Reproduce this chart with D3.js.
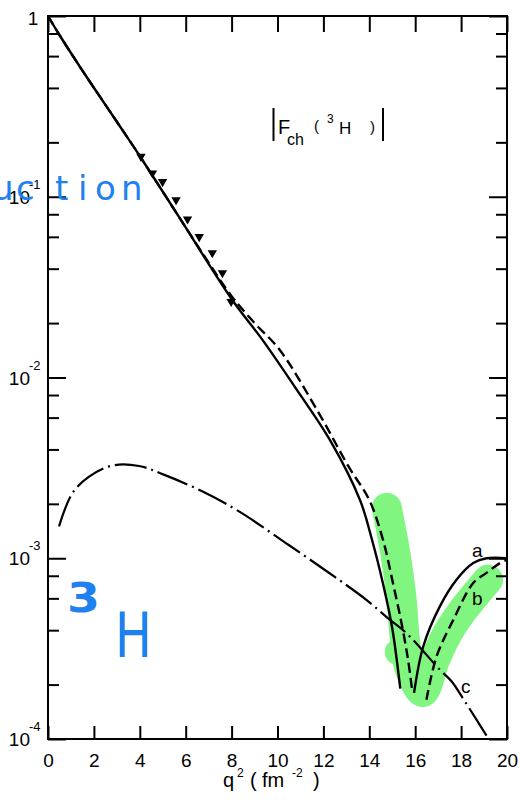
<!DOCTYPE html>
<html>
<head>
<meta charset="utf-8">
<script src="https://cdn.jsdelivr.net/npm/d3@7"></script>
<style>
  html, body { margin: 0; padding: 0; background: #fff; }
  svg { display: block; font-family: "Liberation Sans", Arial, sans-serif; }
</style>
</head>
<body>
<svg id="chart" width="520" height="802"></svg>
<script>
// |F_ch(3H)| versus momentum transfer q^2 (fm^-2)

// curve a (solid), first and second branch
const aQ1 = [0, 0.5, 1.0, 1.5, 2.0, 3.0, 4.0, 5.7, 8.0, 9.4, 10.8, 12.3, 13.6, 14.1, 14.6, 15.0, 15.35];
const aF1 = [1, 0.785, 0.624, 0.499, 0.401, 0.260, 0.168, 0.0776, 0.0272, 0.0158, 0.0087, 0.00447, 0.00209, 0.00129, 0.00072, 0.00041, 0.00019];
const aQ2 = [15.95, 16.35, 17.07, 17.8, 18.53, 19.11, 20];
const aF2 = [1.8e-4, 3.25e-4, 5.4e-4, 7.6e-4, 9.4e-4, 1.0e-3, 1.0e-3];

// curve b (dashed), first and second branch
const bQ1 = [0, 0.5, 1.0, 1.5, 2.0, 3.0, 4.0, 5.7, 7.0, 8.0, 9.0, 10.1, 11.8, 13.1, 14.0, 14.6, 15.03, 15.4, 15.69, 15.88];
const bF1 = [1, 0.785, 0.624, 0.499, 0.401, 0.260, 0.168, 0.0776, 0.0432, 0.0282, 0.0200, 0.0142, 0.00635, 0.00321, 0.0021, 0.00126, 0.00073, 0.00044, 0.000274, 0.00018];
const bQ2 = [16.49, 16.93, 17.66, 18.53, 19.11, 19.69, 20];
const bF2 = [1.65e-4, 2.86e-4, 4.56e-4, 7.3e-4, 8.3e-4, 9.4e-4, 9.8e-4];

// curve c (dash-dot)
const cQ = [0.48, 1.06, 1.79, 2.81, 3.97, 4.99, 6.74, 8.34, 10.38, 12.27, 13.87, 14.89, 15.62, 17.07, 17.59, 18.17, 19.2];
const cF = [1.5e-3, 2.29e-3, 2.83e-3, 3.26e-3, 3.24e-3, 2.92e-3, 2.34e-3, 1.81e-3, 1.21e-3, 8.26e-4, 5.89e-4, 4.57e-4, 3.85e-4, 2.42e-4, 2.08e-4, 1.61e-4, 1.0e-4];

// measured points
const pQ = [4.05, 4.55, 4.99, 5.58, 6.08, 6.59, 7.16, 7.6, 7.98];
const pF = [0.167, 0.135, 0.121, 0.096, 0.0752, 0.0601, 0.0489, 0.0379, 0.0263];

// marker-pen highlight around the minimum
const hQ = [14.76, 15.11, 15.41, 15.55, 15.77, 16.33, 16.86, 17.38, 18.03, 18.73, 19.17];
const hF = [1.9e-3, 1.11e-3, 5.9e-4, 3.54e-4, 2.42e-4, 1.82e-4, 2.74e-4, 3.78e-4, 5.06e-4, 6.52e-4, 7.6e-4];
const blobQ = [15.24];
const blobF = [3.03e-4];

// axes
const xTicks = [0, 2, 4, 6, 8, 10, 12, 14, 16, 18, 20];
const yDecades = [1, 1e-1, 1e-2, 1e-3, 1e-4];
const yExponents = ["", "-1", "-2", "-3", "-4"];
const yMantissas = [2, 4, 6, 8];

const svg = d3.select("#chart");
const L = 48, R = 507, T = 16, B = 739;
const x = d3.scaleLinear().domain([0, 20]).range([L, R]);
const y = d3.scaleLog().domain([1e-4, 1]).range([B, T]);

const zip = (q, f) => q.map((v, i) => [v, f[i]]);
const line = d3.line().x(d => x(d[0])).y(d => y(d[1])).curve(d3.curveCatmullRom.alpha(0.5));

// highlight (under the curves)
const green = "rgb(128,245,128)";
svg.append("path")
  .attr("d", line(zip(hQ, hF)))
  .attr("fill", "none")
  .attr("stroke", green)
  .attr("stroke-width", 30)
  .attr("stroke-linecap", "round")
  .attr("stroke-linejoin", "round");
svg.selectAll("circle.blob").data(zip(blobQ, blobF)).join("circle")
  .attr("class", "blob")
  .attr("cx", d => x(d[0])).attr("cy", d => y(d[1])).attr("r", 13)
  .attr("fill", green);

// frame
svg.append("rect")
  .attr("x", L).attr("y", T).attr("width", R - L).attr("height", B - T)
  .attr("fill", "none").attr("stroke", "#000").attr("stroke-width", 2);

const yMinor = yDecades.slice(1).flatMap(d => yMantissas.map(m => m * d));

function styleAxis(g) {
  g.select(".domain").remove();
  g.selectAll("line").attr("stroke", "#000").attr("stroke-width", 2);
}

svg.append("g").attr("transform", `translate(0,${B})`)
  .call(d3.axisBottom(x).tickValues(xTicks).tickSizeInner(-13).tickSizeOuter(0).tickPadding(15).tickFormat(d3.format("d")))
  .call(styleAxis)
  .call(g => g.selectAll("text").attr("font-size", 19).attr("fill", "#000")
    .attr("font-family", '"Liberation Sans", Arial, sans-serif'));

svg.append("g").attr("transform", `translate(0,${T})`)
  .call(d3.axisTop(x).tickValues(xTicks).tickSizeInner(-16).tickSizeOuter(0).tickFormat(""))
  .call(styleAxis);

svg.append("g").attr("transform", `translate(${L},0)`)
  .call(d3.axisLeft(y).tickValues(yDecades).tickSizeInner(-18).tickSizeOuter(0).tickFormat(""))
  .call(styleAxis);
svg.append("g").attr("transform", `translate(${L},0)`)
  .call(d3.axisLeft(y).tickValues(yMinor).tickSizeInner(-11).tickSizeOuter(0).tickFormat(""))
  .call(styleAxis);
svg.append("g").attr("transform", `translate(${R},0)`)
  .call(d3.axisRight(y).tickValues(yDecades).tickSizeInner(-18).tickSizeOuter(0).tickFormat(""))
  .call(styleAxis);
svg.append("g").attr("transform", `translate(${R},0)`)
  .call(d3.axisRight(y).tickValues(yMinor).tickSizeInner(-11).tickSizeOuter(0).tickFormat(""))
  .call(styleAxis);

// y tick labels: 1, 10^-1 ... 10^-4
const yl = svg.append("g").attr("fill", "#000");
yDecades.forEach((d, i) => {
  if (i === 0) {
    yl.append("text").attr("x", 33).attr("y", y(d) + 9).attr("text-anchor", "middle")
      .attr("font-size", 19).text("1");
  } else {
    yl.append("text").attr("x", 30).attr("y", y(d) + 7).attr("text-anchor", "end")
      .attr("font-size", 19).text("10");
    yl.append("text").attr("x", 29).attr("y", y(d) - 8)
      .attr("font-size", 13).text(yExponents[i]);
  }
});

// x axis title  q^2 (fm^-2)
const xt = svg.append("g").attr("fill", "#000");
xt.append("text").attr("x", 223).attr("y", 787).attr("font-size", 20).text("q");
xt.append("text").attr("x", 237).attr("y", 777).attr("font-size", 12).text("2");
xt.append("text").attr("x", 250).attr("y", 787).attr("font-size", 20).text("(");
xt.append("text").attr("x", 262).attr("y", 787).attr("font-size", 20).text("fm");
xt.append("text").attr("x", 292).attr("y", 777).attr("font-size", 12).text("-2");
xt.append("text").attr("x", 313).attr("y", 787).attr("font-size", 20).text(")");

// curves
function curve(q, f, dash, w) {
  svg.append("path")
    .attr("d", line(zip(q, f)))
    .attr("fill", "none")
    .attr("stroke", "#000")
    .attr("stroke-width", w)
    .attr("stroke-dasharray", dash);
}
curve(aQ1, aF1, null, 2.4);
curve(aQ2, aF2, null, 2.4);
curve(bQ1, bF1, "10 5", 2.4);
curve(bQ2, bF2, "10 5", 2.4);
curve(cQ, cF, "32 5 2 5", 2.2);

// measured points: filled down-pointing triangles
const tri = d3.symbol().type(d3.symbolTriangle).size(38);
svg.selectAll("path.pt").data(zip(pQ, pF)).join("path")
  .attr("class", "pt")
  .attr("d", tri)
  .attr("transform", d => `translate(${x(d[0])},${y(d[1])}) rotate(180)`)
  .attr("fill", "#000");

// curve labels
const lab = svg.append("g").attr("fill", "#000").attr("font-size", 19);
lab.append("text").attr("x", 472).attr("y", 557).text("a");
lab.append("text").attr("x", 472).attr("y", 605).text("b");
lab.append("text").attr("x", 461).attr("y", 693).text("c");

// panel title |F_ch(3H)|
const ti = svg.append("g").attr("fill", "#000");
ti.append("line").attr("x1", 273.5).attr("x2", 273.5).attr("y1", 108).attr("y2", 141).attr("stroke", "#000").attr("stroke-width", 2);
ti.append("line").attr("x1", 383).attr("x2", 383).attr("y1", 108).attr("y2", 141).attr("stroke", "#000").attr("stroke-width", 2);
ti.append("text").attr("x", 278).attr("y", 134).attr("font-size", 20).text("F");
ti.append("text").attr("x", 287).attr("y", 145).attr("font-size", 16).text("ch");
ti.append("text").attr("x", 314).attr("y", 131).attr("font-size", 15).text("(");
ti.append("text").attr("x", 327).attr("y", 123).attr("font-size", 12).text("3");
ti.append("text").attr("x", 339).attr("y", 134).attr("font-size", 17).text("H");
ti.append("text").attr("x", 370).attr("y", 132).attr("font-size", 15).text(")");

// pen notes in blue
const blue = "#1f80f0";
svg.append("text")
  .attr("x", "-8 16 55 78 95 121").attr("y", 200)
  .attr("font-family", '"DejaVu Sans", sans-serif')
  .attr("font-size", 34).attr("fill", blue).text("uction");
svg.append("text").attr("x", 67).attr("y", 612)
  .attr("font-family", '"DejaVu Sans", sans-serif').attr("font-weight", "bold")
  .attr("font-size", 40).attr("textLength", 33).attr("lengthAdjust", "spacingAndGlyphs")
  .attr("fill", blue).text("3");
svg.append("text").attr("x", 115).attr("y", 657)
  .attr("font-family", '"DejaVu Sans", sans-serif')
  .attr("font-size", 62).attr("textLength", 37).attr("lengthAdjust", "spacingAndGlyphs")
  .attr("fill", blue).text("H");
</script>
</body>
</html>
